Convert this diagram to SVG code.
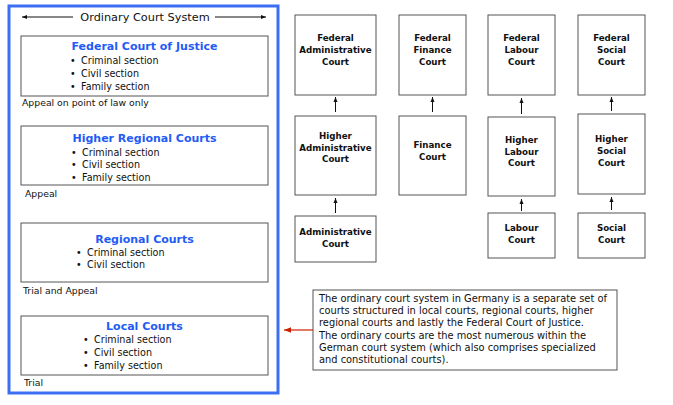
<svg xmlns="http://www.w3.org/2000/svg" width="673" height="405" viewBox="0 0 673 405">
<style>
text{font-family:"DejaVu Sans","Liberation Sans",sans-serif;fill:#111}
.box{fill:#fff;stroke:#555;stroke-width:1}
.ttl{font-size:11px;font-weight:bold;fill:#1f5cf5;text-anchor:middle}
.bul{font-size:9.6px}
.lbl{font-size:9.3px}
.rt{font-size:8.7px;font-weight:bold;text-anchor:middle}
.desc{font-size:9.85px}
.con{stroke:#111;stroke-width:1;fill:none}
</style>
<defs>
<marker id="ah" viewBox="0 0 10 10" refX="10" refY="5" markerWidth="5" markerHeight="5" orient="auto"><path d="M0,1 L10,5 L0,9 z" fill="#111"/></marker>
<marker id="ahr" viewBox="0 0 10 10" refX="10" refY="5" markerWidth="6" markerHeight="6" orient="auto"><path d="M0,1 L10,5 L0,9 z" fill="#cc2200"/></marker>
</defs>
<rect width="673" height="405" fill="#fff"/>
<g id="ordinary-system">
<rect x="9" y="6" width="269" height="387" fill="none" stroke="#3b6ef2" stroke-width="3"/>
<text x="145" y="21" style="font-size:11.3px" text-anchor="middle">Ordinary Court System</text>
<line x1="73" y1="17" x2="22" y2="17" class="con" marker-end="url(#ah)"/>
<line x1="215" y1="17" x2="266" y2="17" class="con" marker-end="url(#ah)"/>
</g>
<g id="federal-court-of-justice">
<rect class="box" x="21" y="36" width="247" height="60"/>
<text class="ttl" x="144.5" y="50">Federal Court of Justice</text>
<text class="bul" x="70" y="63.5">•</text><text class="bul" x="81" y="63.5">Criminal section</text>
<text class="bul" x="70" y="76.5">•</text><text class="bul" x="81" y="76.5">Civil section</text>
<text class="bul" x="70" y="89.5">•</text><text class="bul" x="81" y="89.5">Family section</text>
<text class="lbl" x="22" y="106">Appeal on point of law only</text>
</g>
<g id="higher-regional-courts">
<rect class="box" x="21" y="126" width="247" height="59"/>
<text class="ttl" x="144.5" y="142">Higher Regional Courts</text>
<text class="bul" x="71" y="155.5">•</text><text class="bul" x="82" y="155.5">Criminal section</text>
<text class="bul" x="71" y="167.5">•</text><text class="bul" x="82" y="167.5">Civil section</text>
<text class="bul" x="71" y="180.5">•</text><text class="bul" x="82" y="180.5">Family section</text>
<text class="lbl" x="25" y="197">Appeal</text>
</g>
<g id="regional-courts">
<rect class="box" x="21" y="223" width="247" height="59"/>
<text class="ttl" x="144.5" y="243">Regional Courts</text>
<text class="bul" x="76" y="255.5">•</text><text class="bul" x="87" y="255.5">Criminal section</text>
<text class="bul" x="76" y="267.5">•</text><text class="bul" x="87" y="267.5">Civil section</text>
<text class="lbl" x="23" y="294">Trial and Appeal</text>
</g>
<g id="local-courts">
<rect class="box" x="21" y="316" width="247" height="59"/>
<text class="ttl" x="144.5" y="330">Local Courts</text>
<text class="bul" x="83" y="343">•</text><text class="bul" x="94" y="343">Criminal section</text>
<text class="bul" x="83" y="355.5">•</text><text class="bul" x="94" y="355.5">Civil section</text>
<text class="bul" x="83" y="368.5">•</text><text class="bul" x="94" y="368.5">Family section</text>
<text class="lbl" x="24" y="386">Trial</text>
</g>
<g id="federal-administrative-court">
<rect class="box" x="295" y="15" width="81" height="80"/>
<text class="rt" x="335.5" y="41">Federal</text><text class="rt" x="335.5" y="53">Administrative</text><text class="rt" x="335.5" y="65">Court</text>
</g>
<g id="federal-finance-court">
<rect class="box" x="399" y="15" width="67" height="80"/>
<text class="rt" x="432.5" y="41">Federal</text><text class="rt" x="432.5" y="53">Finance</text><text class="rt" x="432.5" y="65">Court</text>
</g>
<g id="federal-labour-court">
<rect class="box" x="488" y="15" width="67" height="80"/>
<text class="rt" x="521.5" y="41">Federal</text><text class="rt" x="521.5" y="53">Labour</text><text class="rt" x="521.5" y="65">Court</text>
</g>
<g id="federal-social-court">
<rect class="box" x="578" y="15" width="67" height="80"/>
<text class="rt" x="611.5" y="41">Federal</text><text class="rt" x="611.5" y="53">Social</text><text class="rt" x="611.5" y="65">Court</text>
</g>
<g id="higher-administrative-court">
<rect class="box" x="295" y="116" width="81" height="79"/>
<text class="rt" x="335.5" y="139">Higher</text><text class="rt" x="335.5" y="151">Administrative</text><text class="rt" x="335.5" y="162">Court</text>
</g>
<g id="finance-court">
<rect class="box" x="399" y="116" width="67" height="79"/>
<text class="rt" x="432.5" y="148">Finance</text><text class="rt" x="432.5" y="160">Court</text>
</g>
<g id="higher-labour-court">
<rect class="box" x="488" y="117" width="67" height="79"/>
<text class="rt" x="521.5" y="143">Higher</text><text class="rt" x="521.5" y="155">Labour</text><text class="rt" x="521.5" y="166">Court</text>
</g>
<g id="higher-social-court">
<rect class="box" x="578" y="114" width="67" height="80"/>
<text class="rt" x="611.5" y="142">Higher</text><text class="rt" x="611.5" y="154">Social</text><text class="rt" x="611.5" y="166">Court</text>
</g>
<g id="administrative-court">
<rect class="box" x="295" y="216" width="81" height="46"/>
<text class="rt" x="335.5" y="235">Administrative</text><text class="rt" x="335.5" y="247">Court</text>
</g>
<g id="labour-court">
<rect class="box" x="488" y="213" width="67" height="45"/>
<text class="rt" x="521.5" y="231">Labour</text><text class="rt" x="521.5" y="243">Court</text>
</g>
<g id="social-court">
<rect class="box" x="578" y="213" width="67" height="45"/>
<text class="rt" x="611.5" y="231">Social</text><text class="rt" x="611.5" y="243">Court</text>
</g>
<g id="description">
<rect class="box" x="313" y="290" width="304" height="80"/>
<text class="desc" x="319" y="302">The ordinary court system in Germany is a separate set of</text>
<text class="desc" x="319" y="314">courts structured in local courts, regional courts, higher</text>
<text class="desc" x="319" y="326">regional courts and lastly the Federal Court of Justice.</text>
<text class="desc" x="319" y="338.5">The ordinary courts are the most numerous within the</text>
<text class="desc" x="319" y="351">German court system (which also comprises specialized</text>
<text class="desc" x="319" y="363">and constitutional courts).</text>
</g>
<g id="connectors">
<line class="con" x1="335.5" y1="112" x2="335.5" y2="97" marker-end="url(#ah)"/>
<line class="con" x1="432.5" y1="112" x2="432.5" y2="97" marker-end="url(#ah)"/>
<line class="con" x1="521.5" y1="114" x2="521.5" y2="98" marker-end="url(#ah)"/>
<line class="con" x1="611.5" y1="111" x2="611.5" y2="97" marker-end="url(#ah)"/>
<line class="con" x1="335.5" y1="213" x2="335.5" y2="198" marker-end="url(#ah)"/>
<line class="con" x1="521.5" y1="211" x2="521.5" y2="199" marker-end="url(#ah)"/>
<line class="con" x1="611.5" y1="210" x2="611.5" y2="197" marker-end="url(#ah)"/>
<line x1="313" y1="330" x2="284" y2="330" stroke="#cc2200" stroke-width="1.2" marker-end="url(#ahr)"/>
</g>
</svg>
